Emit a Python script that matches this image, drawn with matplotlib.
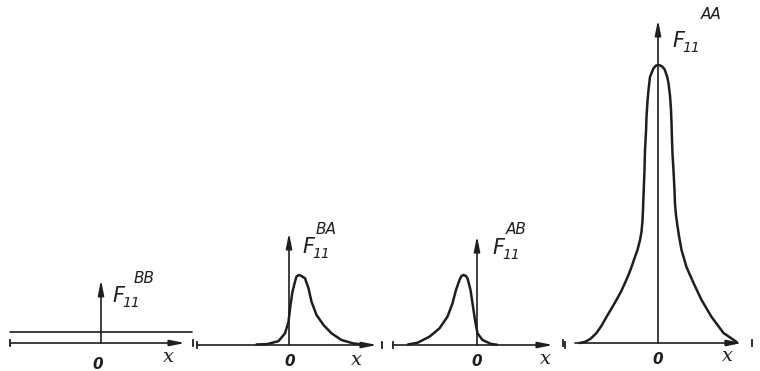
import matplotlib.pyplot as plt

# hand drawn profiles: x in arbitrary units, F normalised to the AA peak
bb_x = [-1.82, 1.82]
bb_f = [0.04, 0.04]

ba_x = [-0.65, -0.44, -0.21, -0.08, -0.01, 0.03, 0.07, 0.12, 0.15, 0.20, 0.25, 0.32,
        0.39, 0.45, 0.55, 0.69, 0.85, 1.05, 1.28, 1.45]
ba_f = [0.002, 0.003, 0.014, 0.042, 0.084, 0.144, 0.192, 0.228, 0.246, 0.252, 0.248, 0.24,
        0.204, 0.156, 0.108, 0.072, 0.042, 0.018, 0.006, 0.002]

ab_x = [-1.38, -1.19, -0.95, -0.75, -0.59, -0.49, -0.42, -0.35, -0.31, -0.27, -0.22, -0.19,
        -0.13, -0.09, -0.04, 0.01, 0.11, 0.28, 0.40]
ab_f = [0.002, 0.008, 0.03, 0.06, 0.102, 0.15, 0.198, 0.234, 0.248, 0.252, 0.248, 0.24,
        0.198, 0.15, 0.09, 0.042, 0.018, 0.004, 0.001]

aa_x = [-1.57, -1.46, -1.35, -1.23, -1.13, -1.03, -0.93, -0.83, -0.74, -0.66, -0.59, -0.53,
        -0.47, -0.41, -0.36, -0.33, -0.31, -0.30, -0.29, -0.28, -0.27, -0.26, -0.24, -0.23,
        -0.21, -0.19, -0.16, -0.12, -0.09, -0.04, 0.02, 0.08, 0.13, 0.18, 0.21, 0.24, 0.26,
        0.27, 0.28, 0.29, 0.31, 0.33, 0.34, 0.36, 0.39, 0.42, 0.47, 0.57, 0.71, 0.87, 1.07,
        1.31, 1.57]
aa_f = [0.0, 0.004, 0.015, 0.036, 0.062, 0.094, 0.124, 0.155, 0.185, 0.216, 0.245, 0.273,
        0.305, 0.335, 0.37, 0.40, 0.44, 0.48, 0.53, 0.575, 0.622, 0.694, 0.76, 0.813,
        0.87, 0.91, 0.957, 0.975, 0.988, 0.998, 1.0, 0.995, 0.985, 0.96, 0.935, 0.89, 0.84,
        0.79, 0.73, 0.68, 0.62, 0.55, 0.50, 0.46, 0.42, 0.385, 0.335, 0.273, 0.216, 0.155, 0.094,
        0.036, 0.004]

curves = [(bb_x, bb_f), (ba_x, ba_f), (ab_x, ab_f), (aa_x, aa_f)]
sup_labels = ['BB', 'BA', 'AB', 'AA']

# layout of the four sketches (pixels of the 760x371 figure)
zero_px = [101, 289, 477, 658]
base_px = [343, 345, 345, 343]
axis_start = [-1.82, -1.84, -1.68, -1.66]
axis_tip = [1.68, 1.76, 1.52, 1.68]
tick_left = [-1.82, -1.84, -1.68, -1.9]
tick_right = [1.84, 1.86, 1.76, 1.88]
vert_top = [0.227, 0.403, 0.392, 1.162]
f_pos = [(0.22, 0.147), (0.26, 0.331), (0.30, 0.327), (0.28, 1.065)]
sup_pos = [(0.66, 0.216), (0.54, 0.40), (0.58, 0.40), (0.86, 1.165)]
zero_pos = [(-0.06, -0.076), (0.02, -0.061), (0.0, -0.061), (0.0, -0.061)]
xlab_pos = [(1.34, -0.052), (1.34, -0.054), (1.36, -0.05), (1.38, -0.047)]

ink = '#1e1e1e'
W, H, UNIT_Y = 760.0, 371.0, 278.0

fig = plt.figure(figsize=(7.6, 3.71), dpi=100)
fig.patch.set_facecolor('white')

arrow = dict(arrowstyle='-|>,head_length=0.9,head_width=0.18', lw=1.2, color=ink,
             shrinkA=0, shrinkB=0)

for i in range(4):
    ax = fig.add_axes([(zero_px[i] - 95) / W, 0, 190 / W, 1])
    ax.set_xlim(-1.9, 1.9)
    ax.set_ylim(-(H - base_px[i]) / UNIT_Y, base_px[i] / UNIT_Y)
    ax.axis('off')

    # x axis with arrow, and the little end marks
    ax.annotate('', xy=(axis_tip[i], 0), xytext=(axis_start[i], 0), arrowprops=arrow)
    for t in (tick_left[i], tick_right[i]):
        ax.plot([t, t], [-0.012, 0.012], color=ink, lw=1.3, clip_on=False)
    # F axis
    ax.annotate('', xy=(0, vert_top[i]), xytext=(0, 0), arrowprops=arrow)

    cx, cf = curves[i]
    ax.plot(cx, cf, color=ink, lw=1.8 if i else 1.2, solid_capstyle='round',
            solid_joinstyle='round', clip_on=False)

    fx, fy = f_pos[i]
    ax.text(fx, fy, 'F', fontsize=15, style='italic', color=ink, va='baseline')
    ax.text(fx + 0.2, fy - 0.018, '11', fontsize=10, style='italic', color=ink, va='baseline')
    sx, sy = sup_pos[i]
    ax.text(sx, sy, sup_labels[i], fontsize=11, style='italic', color=ink, va='baseline')

    zx, zy = zero_pos[i]
    ax.text(zx, zy, '0', fontsize=11, style='italic', weight='bold', color=ink,
            ha='center', va='center')
    lx, ly = xlab_pos[i]
    ax.text(lx, ly, 'x', fontsize=14, style='italic', family='DejaVu Serif', color=ink,
            ha='center', va='center')

fig.savefig('out.png', dpi=100, facecolor='white')
